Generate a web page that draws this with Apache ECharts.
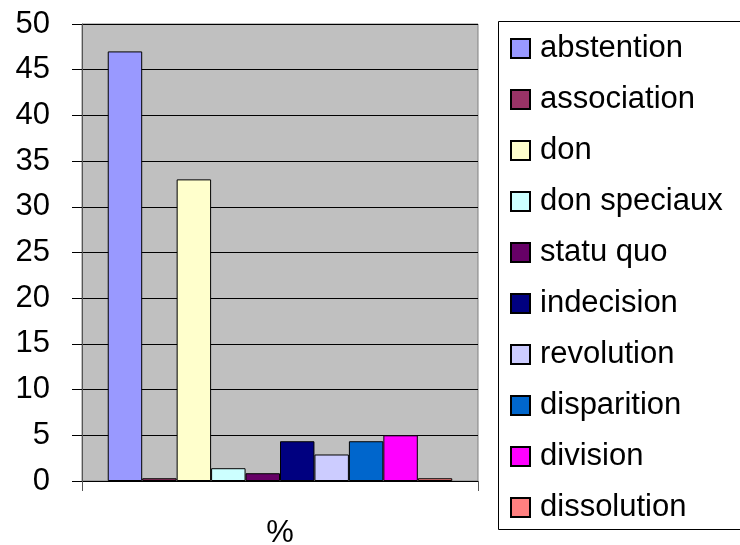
<!DOCTYPE html>
<html>
<head>
<meta charset="utf-8">
<script src="https://cdn.jsdelivr.net/npm/echarts@6/dist/echarts.min.js"></script>
<style>
  html, body { margin: 0; padding: 0; background: #fff; }
  #chart { width: 740px; height: 545px; }
</style>
</head>
<body>
<div id="chart"></div>
<script>
"use strict";

const categories = ["%"];
const seriesNames = [
  "abstention", "association", "don", "don speciaux", "statu quo",
  "indecision", "revolution", "disparition", "division", "dissolution"
];
const seriesValues = [47, 0.3, 33, 1.4, 0.85, 4.35, 2.9, 4.35, 5, 0.3];
const seriesColors = [
  "#9999ff", "#993366", "#ffffcc", "#ccffff", "#660066",
  "#000080", "#ccccff", "#0066cc", "#ff00ff", "#ff8080"
];

const font = "Arial, 'Liberation Sans', sans-serif";

const chart = echarts.init(document.getElementById("chart"), null, { renderer: "canvas" });

const frameLine = (x1, y1, x2, y2) => ({
  type: "line",
  silent: true,
  shape: { x1: x1, y1: y1, x2: x2, y2: y2 },
  style: { stroke: "#000", lineWidth: 1 }
});

chart.setOption({
  animation: false,
  backgroundColor: "#ffffff",
  textStyle: { fontFamily: font, color: "#000" },
  grid: {
    left: 82, right: 262, top: 24, bottom: 64,
    outerBoundsMode: "none",
    show: true, backgroundColor: "#c0c0c0", borderColor: "#808080", borderWidth: 1
  },
  // legend frame, open on the right (it runs off the picture)
  graphic: [
    frameLine(498.5, 21.5, 740, 21.5),
    frameLine(498.5, 21.5, 498.5, 529.5),
    frameLine(498.5, 529.5, 740, 529.5)
  ],
  legend: {
    orient: "vertical",
    left: 498, top: 24,
    padding: [9, 10, 9, 12],
    itemWidth: 19, itemHeight: 19, itemGap: 20,
    icon: "rect",
    selectedMode: false,
    data: seriesNames,
    textStyle: { fontFamily: font, fontSize: 31, color: "#000", lineHeight: 31, padding: [0, 0, 0, 5] }
  },
  xAxis: {
    type: "category",
    data: categories,
    axisLine: { lineStyle: { color: "#000", width: 1 } },
    axisTick: { show: true, length: 10, lineStyle: { color: "#555" } },
    axisLabel: { fontFamily: font, fontSize: 31, color: "#000", margin: 37 }
  },
  yAxis: {
    type: "value",
    min: 0, max: 50, interval: 5,
    axisLine: { show: true, lineStyle: { color: "#555", width: 1 } },
    axisTick: { show: true, length: 10, lineStyle: { color: "#000" } },
    axisLabel: { fontFamily: font, fontSize: 31, color: "#000", margin: 32 },
    splitLine: { show: true, lineStyle: { color: "#000", width: 1 } }
  },
  series: seriesNames.map((name, i) => ({
    name: name,
    type: "bar",
    data: [seriesValues[i]],
    barGap: "0%",
    barCategoryGap: "13%",
    itemStyle: { color: seriesColors[i], borderColor: "#000", borderWidth: 1 }
  }))
});
</script>
</body>
</html>
